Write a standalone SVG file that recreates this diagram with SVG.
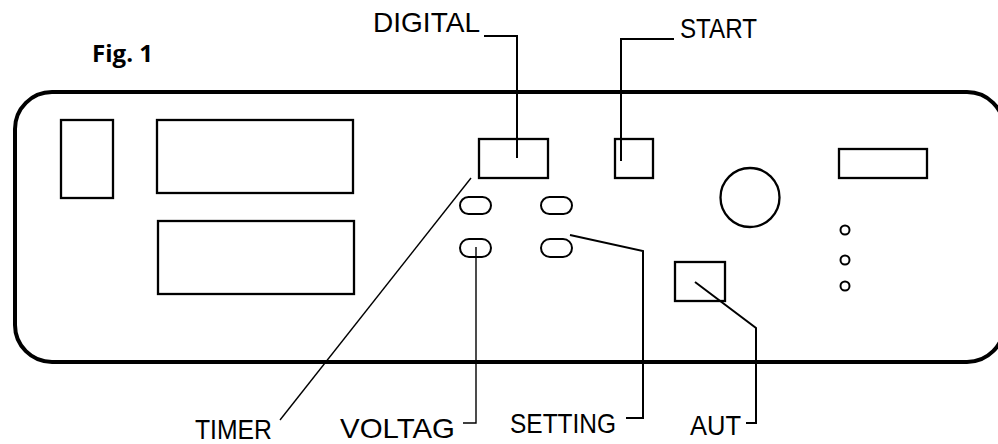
<svg xmlns="http://www.w3.org/2000/svg" width="998" height="444" viewBox="0 0 998 444">
<style>
.lbl{font-family:"Liberation Sans",Arial,sans-serif;font-size:28px;fill:#000;}
.part{fill:none;stroke:#000;stroke-width:2.3;}
.led{fill:none;stroke:#000;stroke-width:2;}
.con{fill:none;stroke:#000;stroke-width:2;}
.thin{fill:none;stroke:#000;stroke-width:1.4;}
</style>
<rect width="998" height="444" fill="#fff"/>
<text x="92" y="62" font-family="'Open Sans','Liberation Sans',sans-serif" font-weight="bold" font-size="24" textLength="61" lengthAdjust="spacingAndGlyphs">Fig. 1</text>
<g id="panel"><rect x="15" y="92" width="989" height="270" rx="37" ry="37" fill="none" stroke="#000" stroke-width="4"/></g>
<g id="left-box"><rect class="part" x="61" y="120" width="52" height="78"/></g>
<g id="display-top"><rect class="part" x="157" y="120" width="196" height="73"/></g>
<g id="display-bottom"><rect class="part" x="158" y="221" width="196" height="73"/></g>
<g id="digital-box"><rect class="part" x="479" y="139" width="69" height="39"/></g>
<g id="start-box"><rect class="part" x="615" y="139" width="38" height="39"/></g>
<g id="knob"><circle class="part" cx="750" cy="197.5" r="29.5"/></g>
<g id="right-rect"><rect class="part" x="839" y="149" width="88" height="29"/></g>
<g id="aut-box"><rect class="part" x="675" y="262" width="50" height="39"/></g>
<g id="timer-btn"><rect class="led" x="460" y="197" width="31" height="17" rx="8.5"/></g>
<g id="btn-2"><rect class="led" x="541" y="197" width="31" height="17" rx="8.5"/></g>
<g id="voltag-btn"><rect class="led" x="460" y="239" width="31" height="18" rx="9"/></g>
<g id="setting-btn"><rect class="led" x="541" y="239" width="31" height="18" rx="9"/></g>
<g id="indicators">
<circle class="led" cx="845" cy="230" r="4.5"/>
<circle class="led" cx="845" cy="260" r="4.5"/>
<circle class="led" cx="845" cy="286" r="4.5"/>
</g>
<g id="connectors">
<polyline class="con" points="484,36 517,36 517,158"/>
<polyline class="con" points="674,39 621,39 621,161"/>
<line class="thin" x1="471" y1="178" x2="280" y2="420"/>
<polyline class="thin" points="476,247 476,423 463,423"/>
<polyline class="con" points="570,235 643,251 643,418 626,418"/>
<polyline class="con" points="695,282 756,328 756,423 746,423"/>
</g>
<g id="labels">
<text class="lbl" x="373" y="32" textLength="107" lengthAdjust="spacingAndGlyphs">DIGITAL</text>
<text class="lbl" x="680" y="38" textLength="77" lengthAdjust="spacingAndGlyphs">START</text>
<text class="lbl" x="195" y="439" textLength="77" lengthAdjust="spacingAndGlyphs">TIMER</text>
<text class="lbl" x="340" y="438" textLength="115" lengthAdjust="spacingAndGlyphs">VOLTAG</text>
<text class="lbl" x="510" y="433" textLength="106" lengthAdjust="spacingAndGlyphs">SETTING</text>
<text class="lbl" x="690" y="435" textLength="51" lengthAdjust="spacingAndGlyphs">AUT</text>
</g>
</svg>
